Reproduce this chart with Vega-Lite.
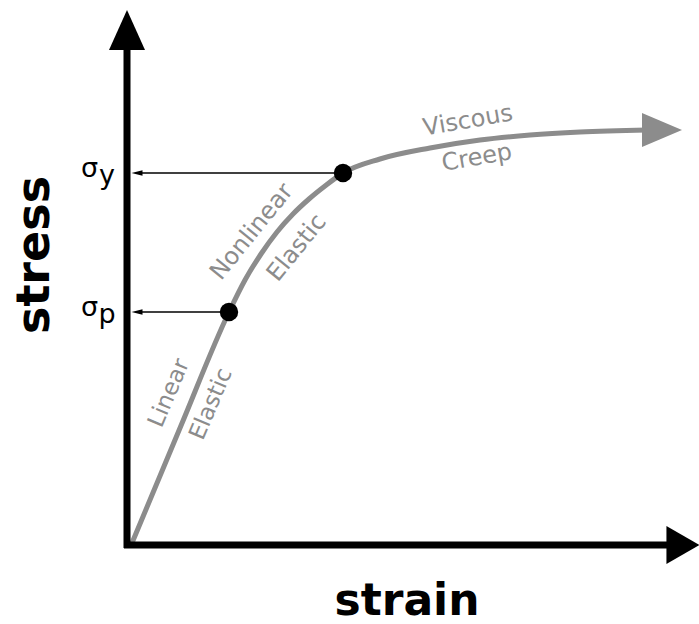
{
  "$schema": "https://vega.github.io/schema/vega-lite/v6.json",
  "width": 699,
  "height": 624,
  "padding": 0,
  "autosize": "none",
  "background": "white",
  "config": {"view": {"stroke": null}},
  "datasets": {
    "curve": [
      {"strain": 0.05, "stress": 0.02},
      {"strain": 0.53, "stress": 1.17},
      {"strain": 1.02, "stress": 2.33},
      {"strain": 1.18, "stress": 2.65},
      {"strain": 1.34, "stress": 2.91},
      {"strain": 1.5, "stress": 3.13},
      {"strain": 1.66, "stress": 3.31},
      {"strain": 1.82, "stress": 3.46},
      {"strain": 1.98, "stress": 3.59},
      {"strain": 2.16, "stress": 3.72},
      {"strain": 2.53, "stress": 3.86},
      {"strain": 3.03, "stress": 3.97},
      {"strain": 3.53, "stress": 4.05},
      {"strain": 4.03, "stress": 4.1},
      {"strain": 4.53, "stress": 4.13},
      {"strain": 5.2, "stress": 4.15}
    ],
    "axes": [
      {"strain": 0, "stress": -0.03, "strain2": 0, "stress2": 4.97},
      {"strain": -0.03, "stress": 0, "strain2": 5.42, "stress2": 0}
    ],
    "heads": [
      {"strain": 0, "stress": 5.15, "dir": "up"},
      {"strain": 5.56, "stress": 0, "dir": "right"},
      {"strain": 5.35, "stress": 4.15, "dir": "curve"}
    ],
    "points": [
      {"name": "p", "strain": 1.02, "stress": 2.33},
      {"name": "y", "strain": 2.16, "stress": 3.72}
    ],
    "guides": [
      {"name": "p", "strain": 0.1, "stress": 2.33, "strain2": 1.02},
      {"name": "y", "strain": 0.1, "stress": 3.72, "strain2": 2.16}
    ],
    "labels": [
      {"group": "xtitle", "text": "strain", "strain": 2.8, "stress": -0.7},
      {"group": "ytitle", "text": "stress", "strain": -0.92, "stress": 2.9},
      {"group": "sigma", "text": "σ", "strain": -0.375, "stress": 3.76},
      {"group": "sigma", "text": "y", "strain": -0.2, "stress": 3.69},
      {"group": "sigma", "text": "σ", "strain": -0.375, "stress": 2.37},
      {"group": "sigma", "text": "p", "strain": -0.2, "stress": 2.3},
      {"group": "linear", "text": "Linear", "strain": 0.42, "stress": 1.52},
      {"group": "linear", "text": "Elastic", "strain": 0.84, "stress": 1.41},
      {"group": "nonlinear", "text": "Nonlinear", "strain": 1.25, "stress": 3.13},
      {"group": "nonlinear", "text": "Elastic", "strain": 1.7, "stress": 2.97},
      {"group": "viscous", "text": "Viscous", "strain": 3.41, "stress": 4.24},
      {"group": "viscous", "text": "Creep", "strain": 3.5, "stress": 3.87}
    ]
  },
  "encoding": {
    "x": {"field": "strain", "type": "quantitative", "scale": {"domain": [-1.27, 5.72], "nice": false, "zero": false}, "axis": null},
    "y": {"field": "stress", "type": "quantitative", "scale": {"domain": [-0.79, 5.45], "nice": false, "zero": false}, "axis": null}
  },
  "layer": [
    {
      "data": {"name": "curve"},
      "mark": {"type": "line", "interpolate": "monotone", "stroke": "#8c8c8c", "strokeWidth": 5}
    },
    {
      "data": {"name": "heads"},
      "transform": [{"filter": "datum.dir === 'curve'"}],
      "mark": {"type": "point", "shape": "M-1,-0.85L1,0L-1,0.85Z", "filled": true, "fill": "#8c8c8c", "opacity": 1, "size": 1600, "strokeWidth": 0}
    },
    {
      "data": {"name": "axes"},
      "mark": {"type": "rule", "color": "black", "strokeWidth": 7},
      "encoding": {"x2": {"field": "strain2"}, "y2": {"field": "stress2"}}
    },
    {
      "data": {"name": "heads"},
      "transform": [{"filter": "datum.dir === 'up'"}],
      "mark": {"type": "point", "shape": "M0,-1L0.9,1L-0.9,1Z", "filled": true, "fill": "black", "opacity": 1, "size": 1600, "strokeWidth": 0}
    },
    {
      "data": {"name": "heads"},
      "transform": [{"filter": "datum.dir === 'right'"}],
      "mark": {"type": "point", "shape": "M-1,-1.15L1,0L-1,1.15Z", "filled": true, "fill": "black", "opacity": 1, "size": 1100, "strokeWidth": 0}
    },
    {
      "data": {"name": "guides"},
      "mark": {"type": "rule", "color": "black", "strokeWidth": 1.5},
      "encoding": {"x2": {"field": "strain2"}}
    },
    {
      "data": {"name": "guides"},
      "mark": {"type": "point", "shape": "M1,-0.5L-1,0L1,0.5Z", "filled": true, "fill": "black", "opacity": 1, "size": 120, "strokeWidth": 0}
    },
    {
      "data": {"name": "points"},
      "mark": {"type": "circle", "color": "black", "opacity": 1, "size": 340}
    },
    {
      "data": {"name": "labels"},
      "transform": [{"filter": "datum.group === 'xtitle'"}],
      "mark": {"type": "text", "font": "DejaVu Sans", "fontWeight": "bold", "fontSize": 44, "color": "black", "align": "center", "baseline": "alphabetic"},
      "encoding": {"text": {"field": "text"}}
    },
    {
      "data": {"name": "labels"},
      "transform": [{"filter": "datum.group === 'ytitle'"}],
      "mark": {"type": "text", "font": "DejaVu Sans", "fontWeight": "bold", "fontSize": 46, "color": "black", "align": "center", "baseline": "middle", "angle": -90},
      "encoding": {"text": {"field": "text"}}
    },
    {
      "data": {"name": "labels"},
      "transform": [{"filter": "datum.group === 'sigma'"}],
      "mark": {"type": "text", "font": "DejaVu Sans", "fontSize": 27, "color": "black", "align": "center", "baseline": "middle"},
      "encoding": {"text": {"field": "text"}}
    },
    {
      "data": {"name": "labels"},
      "transform": [{"filter": "datum.group === 'linear'"}],
      "mark": {"type": "text", "font": "DejaVu Sans", "fontSize": 23, "color": "#8c8c8c", "align": "center", "baseline": "middle", "angle": -67},
      "encoding": {"text": {"field": "text"}}
    },
    {
      "data": {"name": "labels"},
      "transform": [{"filter": "datum.group === 'nonlinear'"}],
      "mark": {"type": "text", "font": "DejaVu Sans", "fontSize": 24, "color": "#8c8c8c", "align": "center", "baseline": "middle", "angle": -51},
      "encoding": {"text": {"field": "text"}}
    },
    {
      "data": {"name": "labels"},
      "transform": [{"filter": "datum.group === 'viscous'"}],
      "mark": {"type": "text", "font": "DejaVu Sans", "fontSize": 24, "color": "#8c8c8c", "align": "center", "baseline": "middle", "angle": -10},
      "encoding": {"text": {"field": "text"}}
    }
  ]
}
